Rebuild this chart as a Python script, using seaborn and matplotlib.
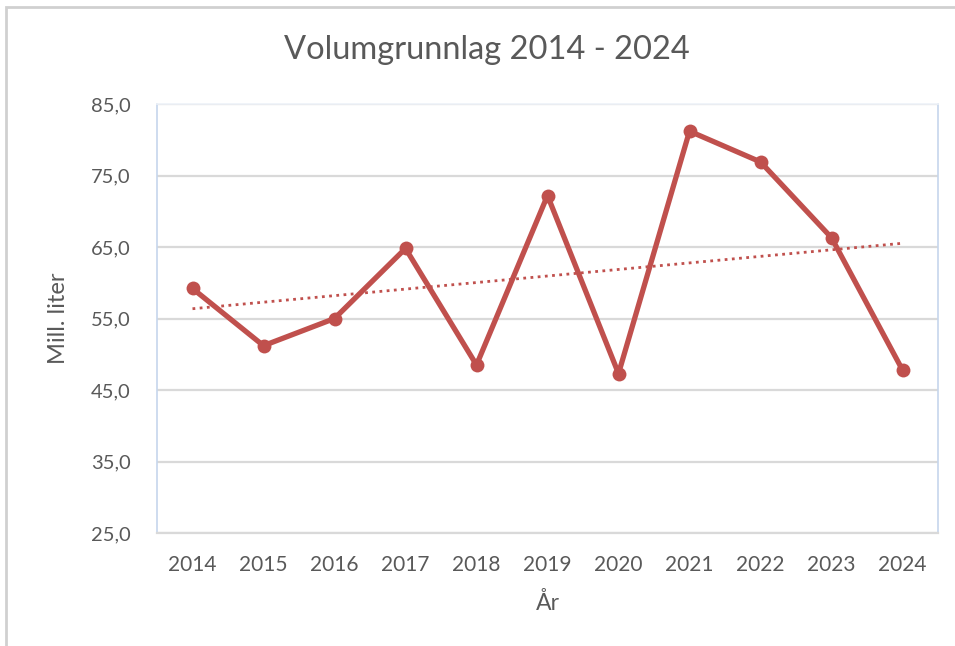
import numpy as np
import pandas as pd
import matplotlib
matplotlib.use("Agg")
import matplotlib.pyplot as plt
import seaborn as sns
from matplotlib.patches import Rectangle
from matplotlib.ticker import FuncFormatter

# values (mill. liter)
years = ["2014", "2015", "2016", "2017", "2018", "2019", "2020", "2021", "2022", "2023", "2024"]
volume = [59.2, 51.2, 55.0, 64.8, 48.5, 72.2, 47.3, 81.2, 76.9, 66.3, 47.8]
y_ticks = [25, 35, 45, 55, 65, 75, 85]

df = pd.DataFrame({"year": years, "volume": volume})

sns.set_theme(style="white")
plt.rcParams["font.family"] = ["Lato", "DejaVu Sans"]

RED = "#c0504d"
TEXT = "#595959"

fig = plt.figure(figsize=(9.55, 6.46), dpi=100)
ax = fig.add_axes([0.1644, 0.1749, 0.8178, 0.6641])

# outer chart frame (cut by the image edge on the right and bottom)
fig.patches.append(Rectangle((6 / 955, -0.05), 1.2, 1.05 - 7 / 646,
                             transform=fig.transFigure, fill=False,
                             edgecolor="#d0d0d0", linewidth=2))

for t in y_ticks:
    ax.axhline(t, color="#d9d9d9", linewidth=1.6, zorder=0)

# linear trend line as Excel draws it
pos = np.arange(len(years))
slope, icpt = np.polyfit(pos, volume, 1)
ax.plot(pos, slope * pos + icpt, linestyle=(0, (1, 1.6)), color=RED,
        linewidth=2.0, zorder=2)

sns.lineplot(data=df, x="year", y="volume", ax=ax, color=RED, linewidth=3.8,
             marker="o", markersize=10, markeredgewidth=0, zorder=3)

ax.set_xlim(-0.5, len(years) - 0.5)
ax.set_ylim(25, 85)
ax.set_yticks(y_ticks)
ax.yaxis.set_major_formatter(FuncFormatter(lambda v, _: f"{v:.1f}".replace(".", ",")))

for side in ["left", "right"]:
    ax.spines[side].set_color("#c6d6ec")
    ax.spines[side].set_linewidth(1.2)
ax.spines["top"].set_color("#eef2f8")
ax.spines["top"].set_linewidth(1.2)
ax.spines["bottom"].set_color("#d9d9d9")
ax.spines["bottom"].set_linewidth(1.6)

ax.tick_params(axis="y", length=0, pad=19, labelsize=14.5, labelcolor=TEXT)
ax.tick_params(axis="x", length=0, pad=16, labelsize=15, labelcolor=TEXT)

ax.set_xlabel("År", fontsize=16.5, color=TEXT, labelpad=12)
ax.set_ylabel("Mill. liter", fontsize=17, color=TEXT, labelpad=16)
fig.text(487 / 955, 1 - 50 / 646, "Volumgrunnlag 2014 - 2024", fontsize=23.5,
         color=TEXT, ha="center", va="center")

fig.savefig("out.png", dpi=100)
